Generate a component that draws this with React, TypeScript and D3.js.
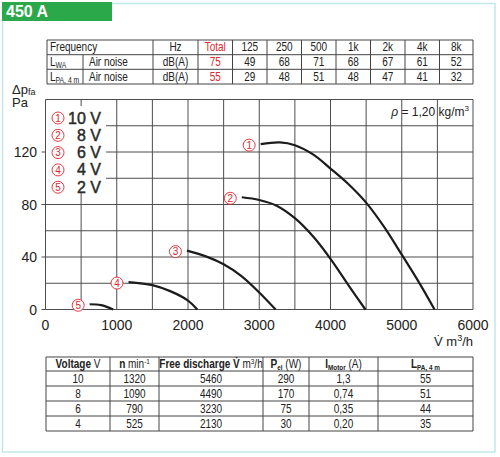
import React from 'react';
import * as d3 from 'd3';

// noise spectrum table
const noiseBands = ['125', '250', '500', '1k', '2k', '4k', '8k'];
const lwaTotal = 75;
const lwaLevels = [49, 68, 71, 68, 67, 61, 52];
const lpaTotal = 55;
const lpaLevels = [29, 48, 51, 48, 47, 41, 32];

// axes
const flowTicks = [0, 1000, 2000, 3000, 4000, 5000, 6000];
const pressureTicks = [0, 40, 80, 120];

// fan curves, [flow m3/h, pressure Pa]
const curve10V: [number, number][] = [[3020, 126], [3290, 127.3], [3500, 125.2], [3760, 118], [4000, 107.4], [4250, 95.6], [4500, 81.4], [4750, 63.1], [5000, 41.8], [5250, 19.9], [5460, 0]];
const curve8V: [number, number][] = [[2755, 85.5], [3000, 83.4], [3250, 78.9], [3500, 69.6], [3760, 55.4], [4000, 38.6], [4270, 17.1], [4490, 0]];
const curve6V: [number, number][] = [[1985, 44.9], [2260, 40.3], [2500, 34.5], [2750, 25.5], [3000, 13], [3230, 0]];
const curve4V: [number, number][] = [[1165, 20.9], [1500, 18.6], [1750, 14], [2000, 6.8], [2130, 0]];
const curve2V: [number, number][] = [[620, 4], [780, 3.3], [950, 0]];
const curves = [curve10V, curve8V, curve6V, curve4V, curve2V];
const curveNames = ['10 V', '8 V', '6 V', '4 V', '2 V'];

// operating data table
const voltages = ['10', '8', '6', '4'];
const speeds = ['1320', '1090', '790', '525'];
const freeDischarge = ['5460', '4490', '3230', '2130'];
const powerEl = ['290', '170', '75', '30'];
const motorCurrent = ['1,3', '0,74', '0,35', '0,20'];
const lpaBySpeed = ['55', '51', '44', '35'];

const RED = '#e3262d';
const GRID = '#4d4d4d';
const SANS = "'Liberation Sans', Arial, sans-serif";

const plot = { left: 45.5, right: 473, top: 99.5, bottom: 309.5 };

const Badge = ({ cx, cy, n }: { cx: number; cy: number; n: number }) => (
  <g>
    <circle cx={cx} cy={cy} r={6} fill="#fff" stroke={RED} strokeWidth={0.9} />
    <text x={cx} y={cy + 3.6} textAnchor="middle" fontSize={10} fill={RED} fontFamily={SANS}>{n}</text>
  </g>
);

// condensed table text: Liberation Sans squeezed horizontally
const NText = ({ x, y, anchor = 'middle', fill = '#222', children }: {
  x: number; y: number; anchor?: string; fill?: string; children: React.ReactNode;
}) => (
  <text transform={`translate(${x},${y}) scale(0.8,1)`} textAnchor={anchor} fill={fill}
    fontFamily={SANS} fontSize={12.5}>{children}</text>
);

const App: React.FC = () => {
  const x = d3.scaleLinear().domain([0, 6000]).range([plot.left, plot.right]);
  const y = d3.scaleLinear().domain([0, 160]).range([plot.bottom, plot.top]);
  const line = d3.line<[number, number]>()
    .x(d => x(d[0]))
    .y(d => y(d[1]))
    .curve(d3.curveCatmullRom.alpha(0.5));

  const vGrid = d3.range(0, 6001, 500);
  const hGrid = d3.range(0, 161, 20);

  // noise table layout
  const nCols = [47, 153, 198, 232.5, 267, 301.5, 336, 370.5, 405, 439.5, 473];
  const nRows = [40, 54.7, 69.3, 84];
  const nMid = (i: number) => (nCols[i] + nCols[i + 1]) / 2;
  const nBase = (r: number) => nRows[r] + 11.2;

  // operating table layout
  const oCols = [46, 110, 159, 263, 309, 378, 473];
  const oRows = [357, 371, 386, 401, 416, 431];
  const oMid = (i: number) => (oCols[i] + oCols[i + 1]) / 2;
  const oColumns = [voltages, speeds, freeDischarge, powerEl, motorCurrent, lpaBySpeed];
  const hBase = oRows[0] + 11;

  return (
    <svg width={500} height={457} style={{ position: 'absolute', left: 0, top: 0, background: '#fff' }}>
      {/* frame and tab */}
      <rect x={2.5} y={3.5} width={492.5} height={448.5} fill="#fff" stroke="#bfe5ea" strokeWidth={1.4} />
      <rect x={2} y={2} width={110} height={19} fill="#2ba84a" />
      <text x={6} y={17} fontSize={16} fontWeight="bold" fill="#fff" fontFamily={SANS}>450 A</text>

      {/* noise table */}
      <g>
        {nRows.map((r, i) => (
          <line key={'nr' + i} x1={nCols[0]} x2={nCols[nCols.length - 1]} y1={r} y2={r} stroke="#444" strokeWidth={1} />
        ))}
        {nCols.map((c, i) => (
          <line key={'nc' + i} x1={c} x2={c} y1={nRows[0]} y2={nRows[3]} stroke="#444" strokeWidth={1} />
        ))}
        <line x1={83} x2={83} y1={nRows[1]} y2={nRows[3]} stroke="#444" strokeWidth={1} />
        <NText x={50} y={nBase(0)} anchor="start">Frequency</NText>
        <NText x={50} y={nBase(1)} anchor="start">L<tspan fontSize={8.5} dy={2.5}>WA</tspan></NText>
        <NText x={50} y={nBase(2)} anchor="start">L<tspan fontSize={8.5} dy={2.5}>PA, 4 m</tspan></NText>
        <NText x={89} y={nBase(1)} anchor="start">Air noise</NText>
        <NText x={89} y={nBase(2)} anchor="start">Air noise</NText>
        <NText x={nMid(1)} y={nBase(0)}>Hz</NText>
        <NText x={nMid(1)} y={nBase(1)}>dB(A)</NText>
        <NText x={nMid(1)} y={nBase(2)}>dB(A)</NText>
        <NText x={nMid(2)} y={nBase(0)} fill={RED}>Total</NText>
        <NText x={nMid(2)} y={nBase(1)} fill={RED}>{lwaTotal}</NText>
        <NText x={nMid(2)} y={nBase(2)} fill={RED}>{lpaTotal}</NText>
        {noiseBands.map((b, i) => (
          <g key={b}>
            <NText x={nMid(i + 3)} y={nBase(0)}>{b}</NText>
            <NText x={nMid(i + 3)} y={nBase(1)}>{lwaLevels[i]}</NText>
            <NText x={nMid(i + 3)} y={nBase(2)}>{lpaLevels[i]}</NText>
          </g>
        ))}
      </g>

      {/* grid */}
      <g stroke={GRID} strokeWidth={1}>
        {vGrid.map(v => (
          <line key={'v' + v} x1={x(v)} x2={x(v)} y1={plot.top} y2={plot.bottom} />
        ))}
        {hGrid.map(v => (
          <line key={'h' + v} x1={plot.left} x2={plot.right} y1={y(v)} y2={y(v)} />
        ))}
        {pressureTicks.map(v => (
          <line key={'t' + v} x1={plot.left - 4} x2={plot.left} y1={y(v)} y2={y(v)} />
        ))}
      </g>

      {/* axis labels */}
      <g fontFamily={SANS} fontSize={14} fill="#222">
        {pressureTicks.map(v => (
          <text key={'yl' + v} x={37} y={y(v) + 5} textAnchor="end">{v}</text>
        ))}
        {flowTicks.map(v => (
          <text key={'xl' + v} x={x(v)} y={330} textAnchor="middle">{v}</text>
        ))}
      </g>
      <g fontFamily={SANS} fontSize={13} fill="#222">
        <text x={12} y={93.5}>Δp<tspan fontSize={9} dy={1.5}>fa</tspan></text>
        <text x={12} y={107}>Pa</text>
        <text x={473} y={346} textAnchor="end">V{'\u0307'} m<tspan fontSize={9} dy={-5}>3</tspan><tspan dy={5}>/h</tspan></text>
      </g>
      <text x={469} y={116} textAnchor="end" fontFamily={SANS} fontSize={12} fill="#222">
        <tspan fontStyle="italic">ρ</tspan> = 1,20 kg/m<tspan fontSize={8} dy={-5}>3</tspan>
      </text>

      {/* legend */}
      <rect x={46} y={106} width={60} height={87} fill="#fff" />
      {curveNames.map((name, i) => (
        <g key={name}>
          <Badge cx={58} cy={118 + i * 17.3} n={i + 1} />
          <text x={101} y={118 + i * 17.3 + 5.5} textAnchor="end" fontFamily={SANS} fontSize={16}
            fill="#2a2a2a" stroke="#2a2a2a" strokeWidth={0.45}>{name}</text>
        </g>
      ))}

      {/* curves */}
      {curves.map((c, i) => (
        <g key={'c' + i}>
          <path d={line(c) || ''} fill="none" stroke="#1c1c1c" strokeWidth={2.2} />
          <Badge cx={x(c[0][0]) - 11.5} cy={y(c[0][1]) + 1} n={i + 1} />
        </g>
      ))}

      {/* operating table */}
      <g>
        {oRows.map((r, i) => (
          <line key={'or' + i} x1={oCols[0]} x2={oCols[oCols.length - 1]} y1={r} y2={r} stroke="#444" strokeWidth={1} />
        ))}
        {oCols.map((c, i) => (
          <line key={'oc' + i} x1={c} x2={c} y1={oRows[0]} y2={oRows[oRows.length - 1]} stroke="#444" strokeWidth={1} />
        ))}
        <NText x={oMid(0)} y={hBase}><tspan fontWeight="bold">Voltage</tspan> V</NText>
        <NText x={oMid(1)} y={hBase}><tspan fontWeight="bold">n</tspan> min<tspan fontSize={8} dy={-4}>-1</tspan></NText>
        <NText x={oMid(2)} y={hBase}><tspan fontWeight="bold">Free discharge V{'\u0307'}</tspan> m<tspan fontSize={8} dy={-4}>3</tspan><tspan dy={4}>/h</tspan></NText>
        <NText x={oMid(3)} y={hBase}><tspan fontWeight="bold">P<tspan fontSize={8} dy={2}>el</tspan></tspan><tspan dy={-2}> (W)</tspan></NText>
        <NText x={oMid(4)} y={hBase}><tspan fontWeight="bold">I<tspan fontSize={8} dy={2}>Motor</tspan></tspan><tspan dy={-2}> (A)</tspan></NText>
        <NText x={oMid(5)} y={hBase}><tspan fontWeight="bold">L<tspan fontSize={8} dy={2}>PA, 4 m</tspan></tspan></NText>
        {voltages.map((v, r) => (
          <g key={'row' + v}>
            {oColumns.map((col, c) => (
              <NText key={c} x={oMid(c)} y={oRows[r + 1] + 11.5}>{col[r]}</NText>
            ))}
          </g>
        ))}
      </g>
    </svg>
  );
};

export default App;
